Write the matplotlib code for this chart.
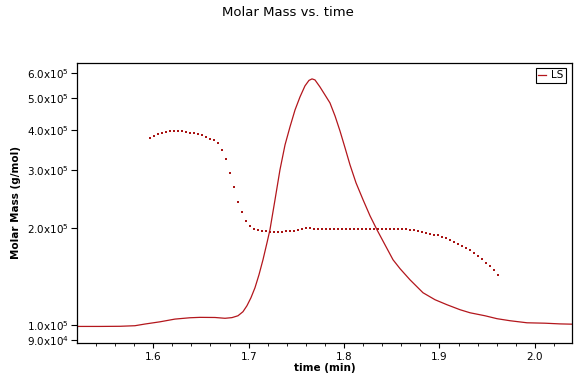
import matplotlib
matplotlib.use('Agg')
import matplotlib.pyplot as plt
from matplotlib.ticker import FixedLocator, MultipleLocator, FuncFormatter, NullLocator

# LS trace (time in min, plotted on the molar mass axis, g/mol x 1000)
trace_time = [1.5201, 1.5441, 1.5651, 1.5808, 1.5913, 1.6070, 1.6227, 1.6385,
              1.6490, 1.6647, 1.6752, 1.6825, 1.6888, 1.6940, 1.6982, 1.7024,
              1.7066, 1.7108, 1.7150, 1.7192, 1.7223, 1.7276, 1.7328, 1.7381,
              1.7433, 1.7486, 1.7538, 1.7590, 1.7632, 1.7664, 1.7695, 1.7747,
              1.7800, 1.7852, 1.7905, 1.7957, 1.8010, 1.8062, 1.8125, 1.8199,
              1.8272, 1.8345, 1.8429, 1.8513, 1.8587, 1.8691, 1.8827, 1.8953,
              1.9079, 1.9215, 1.9320, 1.9477, 1.9603, 1.9739, 1.9917, 2.0106,
              2.0263, 2.0389]
trace_mass = [99.3, 99.3, 99.4, 99.8, 101.0, 102.6, 104.6, 105.6,
              105.9, 105.8, 105.2, 105.7, 107.1, 110.2, 115.0, 121.7,
              130.6, 143.2, 159.3, 179.7, 197.0, 243.7, 301.4, 359.7,
              408.7, 461.0, 505.5, 546.5, 568.3, 574.4, 570.2, 542.7,
              512.6, 484.5, 441.8, 397.2, 352.3, 312.3, 274.9, 243.7,
              217.5, 197.0, 177.1, 159.3, 149.5, 138.2, 126.1, 120.0,
              115.8, 111.8, 109.4, 107.1, 104.9, 103.4, 101.9, 101.6,
              101.1, 100.9]

# molar mass points (time in min, g/mol x 1000)
mm_time = [1.5965, 1.6007, 1.6049, 1.6091, 1.6133, 1.6175, 1.6216, 1.6258,
           1.6300, 1.6342, 1.6384, 1.6426, 1.6468, 1.6510, 1.6552, 1.6594,
           1.6635, 1.6677, 1.6719, 1.6761, 1.6803, 1.6845, 1.6887, 1.6929,
           1.6971, 1.7013, 1.7054, 1.7096, 1.7138, 1.7180, 1.7222, 1.7264,
           1.7306, 1.7348, 1.7390, 1.7432, 1.7473, 1.7515, 1.7557, 1.7599,
           1.7641, 1.7683, 1.7725, 1.7767, 1.7809, 1.7851, 1.7892, 1.7934,
           1.7976, 1.8018, 1.8060, 1.8102, 1.8144, 1.8186, 1.8228, 1.8270,
           1.8311, 1.8353, 1.8395, 1.8437, 1.8479, 1.8521, 1.8563, 1.8605,
           1.8647, 1.8689, 1.8730, 1.8772, 1.8814, 1.8856, 1.8898, 1.8940,
           1.8982, 1.9024, 1.9066, 1.9108, 1.9149, 1.9191, 1.9233, 1.9275,
           1.9317, 1.9359, 1.9401, 1.9443, 1.9485, 1.9527, 1.9568, 1.9610]
mm_mass = [377.3, 384.3, 389.7, 392.5, 395.2, 397.2, 398.1, 398.1,
           397.2, 394.4, 392.5, 390.8, 388.9, 385.3, 381.5, 376.2,
           371.4, 364.9, 347.2, 325.8, 295.0, 267.2, 240.2, 223.8,
           210.0, 202.6, 198.4, 196.3, 195.6, 194.9, 194.2, 194.2,
           194.2, 194.2, 194.9, 194.9, 195.6, 196.3, 197.7, 199.1,
           199.4, 198.7, 197.7, 197.6, 197.6, 197.5, 197.5, 197.6,
           197.7, 197.7, 197.6, 197.5, 197.5, 197.6, 197.7, 197.7,
           197.8, 197.8, 197.7, 197.7, 197.6, 197.6, 197.7, 197.7,
           197.7, 197.0, 196.3, 195.6, 194.2, 192.9, 191.8, 190.5,
           189.5, 187.7, 185.5, 183.1, 180.9, 178.6, 175.9, 173.4,
           170.6, 167.4, 164.1, 160.4, 156.2, 152.1, 148.1, 143.2]

x_ticks = [1.6, 1.7, 1.8, 1.9, 2.0]
y_ticks = [9e4, 1e5, 2e5, 3e5, 4e5, 5e5, 6e5]

red = '#b3161c'

fig = plt.figure(figsize=(5.76, 3.84), dpi=100)
ax = fig.add_axes([0.1337, 0.1068, 0.8594, 0.7292])

ax.plot(trace_time, [m * 1000 for m in trace_mass], color=red, lw=0.9, label='LS')
ax.plot(mm_time, [m * 1000 for m in mm_mass], ls='none', marker='s',
        markersize=1.7, color='#a81414', markeredgewidth=0)

ax.set_yscale('log')
ax.set_xlim(1.5201, 2.0389)
ax.set_ylim(8.83e4, 6.43e5)

ax.xaxis.set_major_locator(FixedLocator(x_ticks))
ax.xaxis.set_minor_locator(MultipleLocator(0.02))
ax.xaxis.set_major_formatter(FuncFormatter(lambda v, p: '%.1f' % v))

def sci(v, p):
    e = 0
    m = v
    while m >= 10:
        m /= 10
        e += 1
    return '%.1fx10$^{%d}$' % (m, e)

ax.yaxis.set_major_locator(FixedLocator(y_ticks))
ax.yaxis.set_minor_locator(NullLocator())
ax.yaxis.set_major_formatter(FuncFormatter(sci))

ax.tick_params(axis='both', labelsize=7.5, width=0.8, direction='out')
ax.tick_params(axis='y', length=4.5, pad=1.5)
ax.tick_params(axis='x', which='major', length=3.5, pad=3)
ax.tick_params(axis='x', which='minor', length=2, width=0.6)
for s in ax.spines.values():
    s.set_linewidth(0.9)

ax.set_xlabel('time (min)', fontsize=7.5, fontweight='bold', labelpad=1)
ax.set_ylabel('Molar Mass (g/mol)', fontsize=7.5, fontweight='bold', labelpad=4)
fig.suptitle('Molar Mass vs. time', fontsize=9.5, y=0.985)

leg = ax.legend(loc='upper right', bbox_to_anchor=(0.987, 0.983), borderaxespad=0,
                fontsize=7.5, handlelength=0.8, handletextpad=0.4, borderpad=0.25,
                fancybox=False, edgecolor='black', framealpha=1)
leg.get_frame().set_linewidth(0.8)

fig.savefig('out.png', dpi=100)
